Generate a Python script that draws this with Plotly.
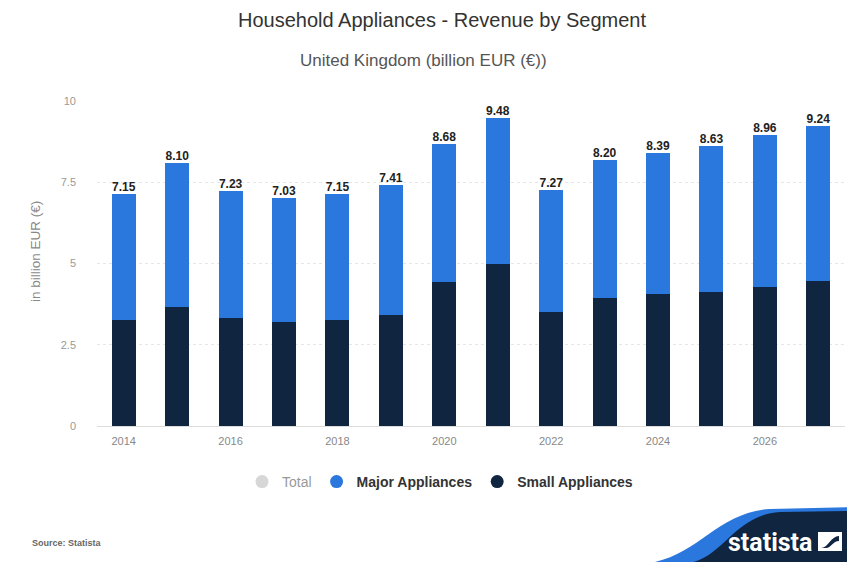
import plotly.graph_objects as go

years = list(range(2014, 2028))
totals = [7.15, 8.10, 7.23, 7.03, 7.15, 7.41, 8.68, 9.48, 7.27, 8.20, 8.39, 8.63, 8.96, 9.24]
small_appliances = [3.26, 3.67, 3.33, 3.19, 3.26, 3.41, 4.44, 4.98, 3.52, 3.93, 4.06, 4.13, 4.29, 4.47]
major_appliances = [3.89, 4.43, 3.90, 3.84, 3.89, 4.00, 4.24, 4.50, 3.75, 4.27, 4.33, 4.50, 4.67, 4.77]
x_tick_years = [2014, 2016, 2018, 2020, 2022, 2024, 2026]
y_ticks = [0, 2.5, 5, 7.5, 10]
y_tick_labels = ["0", "2.5", "5", "7.5", "10"]

# window coordinates (page body has 8px margin)
OFF = 8
WIN_W, WIN_H = 855, 562
L, R, T, B = 97, 10, 101, 136           # plot area edges in window pixels
FW, FH = WIN_W - OFF, WIN_H - OFF
PW, PH = WIN_W - L - R, WIN_H - T - B

def px(x):
    return (x - L) / PW

def py(y):
    return (WIN_H - B - y) / PH

BLUE = "#2a77de"
NAVY = "#0f2540"
FONT = "Liberation Sans, Arial, sans-serif"

fig = go.Figure()
fig.add_trace(go.Bar(x=years, y=small_appliances, marker=dict(color=NAVY, line=dict(width=0)),
                     width=0.45, showlegend=False, hoverinfo="y"))
fig.add_trace(go.Bar(x=years, y=major_appliances, marker=dict(color=BLUE, line=dict(width=0)),
                     width=0.45, showlegend=False, hoverinfo="y"))
fig.add_trace(go.Scatter(x=years, y=totals, mode="text",
                         text=[f"<b>{v:.2f}</b>" for v in totals],
                         textposition="top center",
                         textfont=dict(size=12, color="#222222", family=FONT),
                         showlegend=False, hoverinfo="skip"))
# legend entries
fig.add_trace(go.Scatter(x=[None], y=[None], mode="markers", name="Total",
                         marker=dict(color="#b0b0b0", size=13), visible="legendonly"))
fig.add_trace(go.Scatter(x=[None], y=[None], mode="markers", name="<b>Major Appliances</b>",
                         marker=dict(color=BLUE, size=13)))
fig.add_trace(go.Scatter(x=[None], y=[None], mode="markers", name="<b>Small Appliances</b>",
                         marker=dict(color=NAVY, size=13)))

shapes = []
# statista swoosh
shapes.append(dict(type="path", xref="paper", yref="paper", layer="above",
                   path=f"M {px(655)} {py(562)} C {px(700)} {py(552)}, {px(720)} {py(512)}, {px(770)} {py(509)} "
                        f"L {px(856)} {py(507)} L {px(856)} {py(563)} Z",
                   fillcolor=BLUE, line=dict(width=0)))
shapes.append(dict(type="path", xref="paper", yref="paper", layer="above",
                   path=f"M {px(690)} {py(563)} C {px(725)} {py(555)}, {px(735)} {py(515)}, {px(780)} {py(512)} "
                        f"L {px(856)} {py(511)} L {px(856)} {py(563)} Z",
                   fillcolor=NAVY, line=dict(width=0)))
# logo icon
shapes.append(dict(type="rect", xref="paper", yref="paper", layer="above",
                   x0=px(818), x1=px(842), y0=py(551), y1=py(532),
                   fillcolor="white", line=dict(width=0)))
shapes.append(dict(type="path", xref="paper", yref="paper", layer="above",
                   path=f"M {px(821)} {py(548)} C {px(828)} {py(548)}, {px(831)} {py(536)}, {px(839)} {py(536)} "
                        f"L {px(839)} {py(541)} C {px(833)} {py(541)}, {px(831)} {py(548)}, {px(826)} {py(548)} Z",
                   fillcolor=NAVY, line=dict(width=0)))

annotations = [
    dict(text="Household Appliances - Revenue by Segment", xref="paper", yref="paper",
         x=px(442), y=py(20), showarrow=False, xanchor="center", yanchor="middle",
         font=dict(size=20, color="#333333", family=FONT)),
    dict(text="United Kingdom (billion EUR (€))", xref="paper", yref="paper",
         x=px(423), y=py(60), showarrow=False, xanchor="center", yanchor="middle",
         font=dict(size=17, color="#555555", family=FONT)),
    dict(text="in billion EUR (€)", xref="paper", yref="paper",
         x=px(35), y=py(252), showarrow=False, textangle=-90, xanchor="center", yanchor="middle",
         font=dict(size=13.5, color="#888888", family=FONT)),
    dict(text="<b>Source: Statista</b>", xref="paper", yref="paper",
         x=px(30), y=py(543), showarrow=False, xanchor="left", yanchor="middle",
         font=dict(size=9, color="#666666", family=FONT)),
    dict(text="<b>statista</b>", xref="paper", yref="paper",
         x=px(814), y=py(542), showarrow=False, xanchor="right", yanchor="middle",
         font=dict(size=25, color="white", family="Liberation Sans Narrow, Roboto, Arial, sans-serif")),
]

fig.update_layout(
    width=FW, height=FH,
    margin=dict(l=L - OFF, r=R, t=T - OFF, b=B),
    barmode="stack",
    plot_bgcolor="white", paper_bgcolor="white",
    font=dict(family=FONT, color="#888888"),
    xaxis=dict(range=[2013.5, 2027.5], tickmode="array", tickvals=x_tick_years,
               ticktext=[str(y) for y in x_tick_years], showgrid=False, zeroline=False,
               showline=True, linecolor="#dddddd", linewidth=1,
               tickfont=dict(size=11, color="#888888"), ticks="", ticklabelstandoff=5),
    yaxis=dict(range=[0, 10], tickmode="array", tickvals=y_ticks, ticktext=y_tick_labels,
               showgrid=True, gridcolor="#e6e6e6", gridwidth=1, griddash="dot", zeroline=False,
               tickfont=dict(size=11, color="#999999"), ticks="", ticklabelstandoff=20),
    legend=dict(orientation="h", x=px(440), xanchor="center", y=py(482), yanchor="middle",
                font=dict(size=14, color="#333333", family=FONT), itemclick=False,
                traceorder="normal", itemwidth=30),
    shapes=shapes,
    annotations=annotations,
    showlegend=True,
)

fig.write_html("out.html")
